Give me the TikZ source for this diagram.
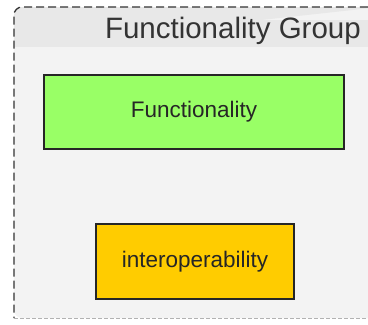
\documentclass[tikz,border=0pt]{standalone}
\usepackage{fontspec}
\setmainfont{Liberation Sans}
\definecolor{bandgray}{HTML}{E8E8E8}
\definecolor{bodygray}{HTML}{F3F3F3}
\definecolor{funcgreen}{HTML}{99FF66}
\definecolor{interorange}{HTML}{FFCC00}
\tikzset{
  groupframe/.style={draw=black!80, dash pattern=on 8pt off 4pt, line width=1.3pt},
  funcbox/.style={draw=black!85, line width=1.2pt, fill=#1, inner sep=0pt},
  boxlabel/.style={font=\fontsize{22.5}{26}\selectfont, text=black!85}
}
\begin{document}
\begin{tikzpicture}[x=1pt,y=-1pt]
\useasboundingbox (0,0) rectangle (368,325) ;
\clip (0,0) rectangle (368,325) ;
% group background
\fill[bodygray, rounded corners=8] (14,7) rectangle (380,318) ;
\fill[bandgray, rounded corners=8] (14,47) -- (14,7) -- (380,7) ;
\fill[bandgray] (14,20) rectangle (380,47) ;
\draw[groupframe, rounded corners=8] (380,7) -- (14,7) -- (14,318) ;
\draw[groupframe, draw=black!30, dash pattern=on 4pt off 2pt, line width=1pt] (14,318) -- (380,318) ;
\node[anchor=base east, font=\fontsize{29.5}{34}\selectfont, text=black!80, inner sep=0pt] (grouptitle) at (361,38) {Functionality Group} ;
% boxes
\node[funcbox=funcgreen, minimum width=300pt, minimum height=74pt] (func) at (194,112) {} ;
\node[boxlabel] (funclabel) at (func.center) {Functionality} ;
\node[funcbox=interorange, minimum width=198pt, minimum height=75pt] (interop) at (195,261.5) {} ;
\node[boxlabel] (interoplabel) at (interop.center) {interoperability} ;
\end{tikzpicture}
\end{document}
